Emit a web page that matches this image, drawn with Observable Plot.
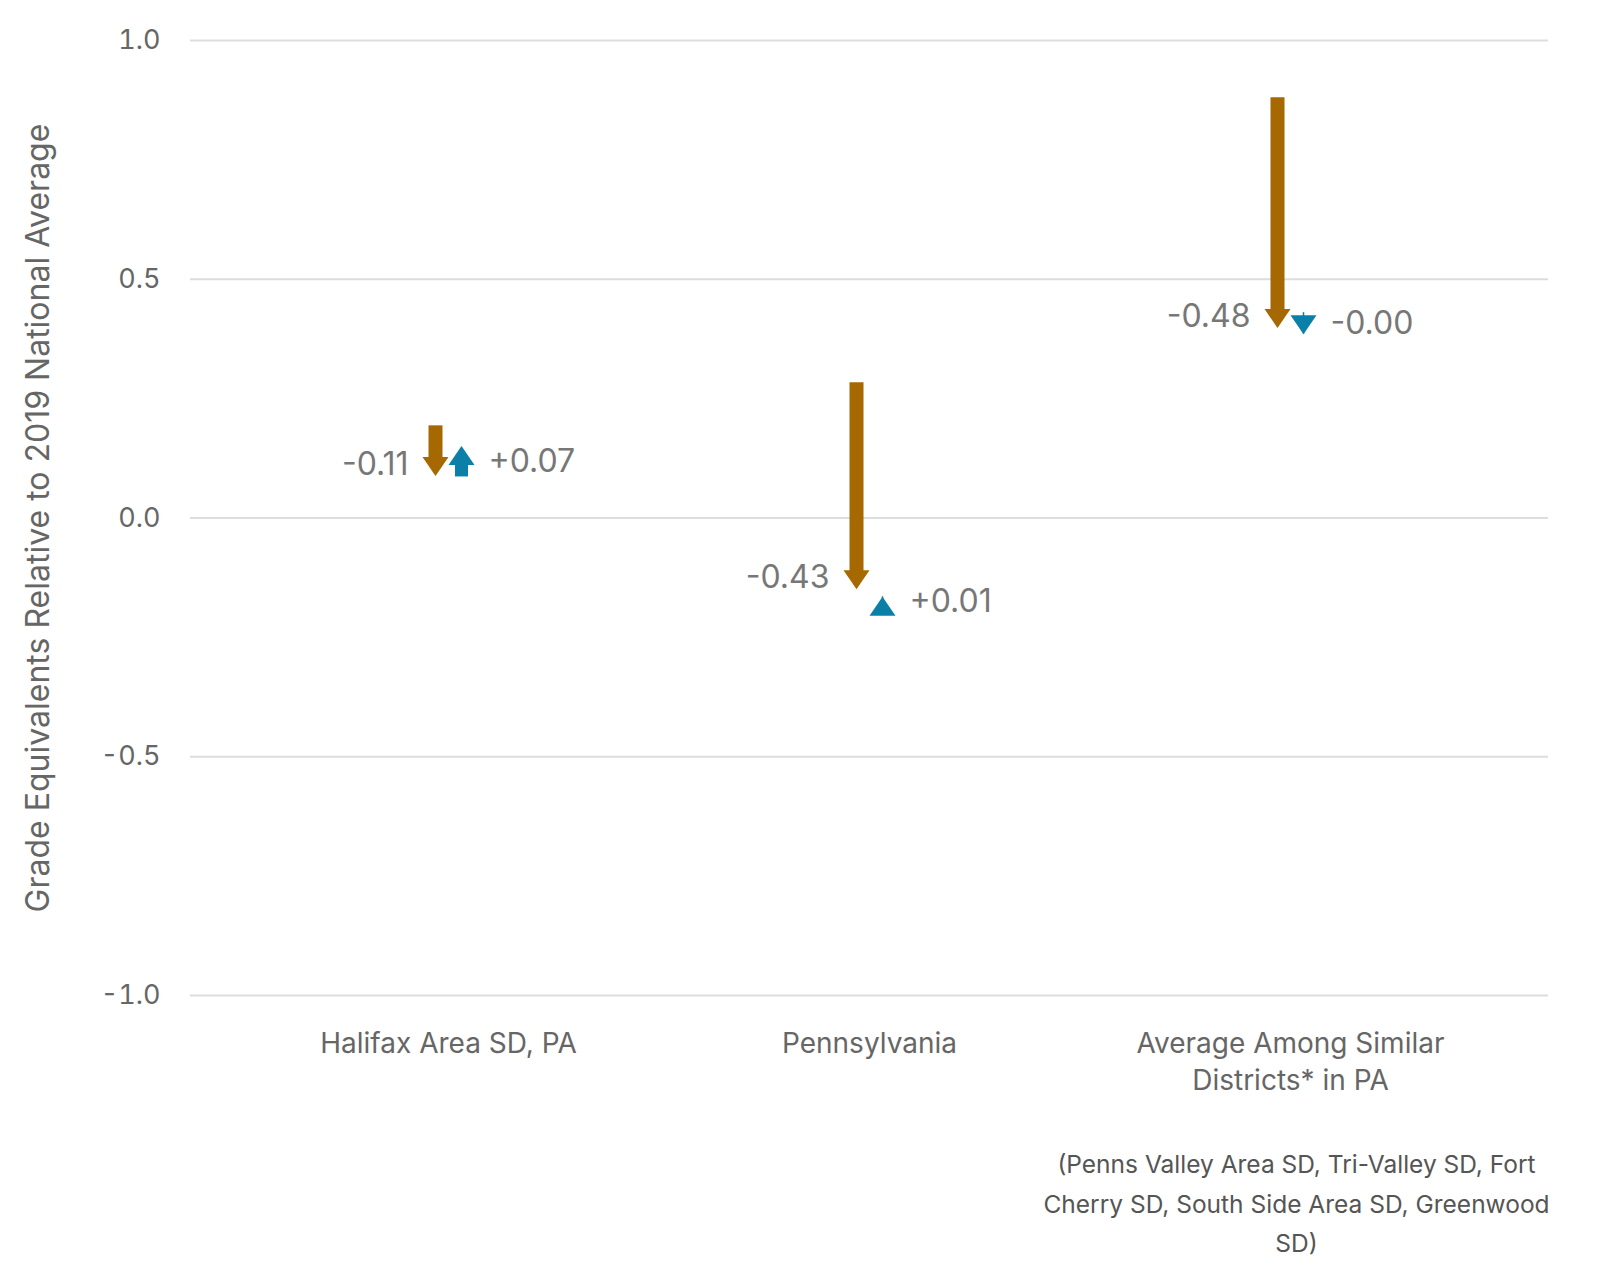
<!DOCTYPE html>
<html>
<head>
<meta charset="utf-8">
<script src="https://cdn.jsdelivr.net/npm/d3@7"></script>
<script src="https://cdn.jsdelivr.net/npm/@observablehq/plot@0.6"></script>
<style>
  html, body { margin: 0; padding: 0; background: white; font-family: Inter, sans-serif; overflow: hidden; }
  #chart svg { display: block; max-width: none !important; }
</style>
</head>
<body>
<div id="chart"></div>
<script>
// categories and values
const groups = ["Halifax Area SD, PA", "Pennsylvania", "Average Among Similar\nDistricts* in PA"]
const firstStart = [0.193, 0.283, 0.88]
const firstEnd = [0.088, -0.149, 0.398]
const firstLabel = ["-0.11", "-0.43", "-0.48"]
const secondStart = [0.086, -0.185, 0.43]
const secondEnd = [0.151, -0.165, 0.385]
const secondLabel = ["+0.07", "+0.01", "-0.00"]
const yTicks = [-1, -0.5, 0, 0.5, 1]
const note = "(Penns Valley Area SD, Tri-Valley SD, Fort\nCherry SD, South Side Area SD, Greenwood\nSD)"

const brown = "#A66800"
const blue = "#0A80A8"

const rows = groups.map((g, i) => ({
  g,
  s1: firstStart[i], e1: firstEnd[i], l1: firstLabel[i],
  s2: secondStart[i], e2: secondEnd[i], l2: secondLabel[i],
  rot1: firstEnd[i] < firstStart[i] ? 0 : 180,
  rot2: secondEnd[i] < secondStart[i] ? 0 : 180
}))

// arrow head, tip at the origin, pointing down
const head = {
  draw(ctx) {
    ctx.moveTo(0, 0)
    ctx.lineTo(-13, -19)
    ctx.lineTo(13, -19)
    ctx.closePath()
  }
}

const down = (s, e) => (d) => d[e] < d[s] && Math.abs(d[e] - d[s]) > 0.05
const up = (s, e) => (d) => d[e] > d[s] && Math.abs(d[e] - d[s]) > 0.05

const chart = Plot.plot({
  width: 1600,
  height: 1271,
  marginLeft: 190,
  marginRight: 52,
  marginTop: 40,
  marginBottom: 276,
  style: { fontFamily: "Inter, sans-serif", fontSize: "27px", color: "#666" },
  x: { type: "point", domain: groups, padding: 0.61, label: null },
  y: { domain: [-1, 1], ticks: yTicks, label: null },
  marks: [
    Plot.gridY(yTicks, { stroke: "#ddd", strokeOpacity: 1, strokeWidth: 2 }),
    Plot.axisY(yTicks, { tickSize: 0, tickPadding: 30, tickFormat: (d) => d3.format(".1f")(d).replace("−", "-"), fontSize: 27, label: null }),
    Plot.axisX({ tickSize: 0, tickPadding: 32, fontSize: 28, lineHeight: 1.3, label: null }),
    Plot.text(["Grade Equivalents Relative to 2019 National Average"], {
      frameAnchor: "left", textAnchor: "middle", dx: -152, rotate: -90, fontSize: 32, fill: "#666"
    }),
    Plot.ruleX(rows, { filter: down("s1", "e1"), x: "g", y1: "s1", y2: "e1", dx: -13, insetBottom: 17, stroke: brown, strokeWidth: 14 }),
    Plot.ruleX(rows, { filter: up("s1", "e1"), x: "g", y1: "e1", y2: "s1", dx: -13, insetTop: 17, stroke: brown, strokeWidth: 14 }),
    Plot.dot(rows, { x: "g", y: "e1", dx: -13, symbol: head, rotate: "rot1", fill: brown, stroke: "none" }),
    Plot.ruleX(rows, { filter: down("s2", "e2"), x: "g", y1: "s2", y2: "e2", dx: 13, insetBottom: 17, stroke: blue, strokeWidth: 13 }),
    Plot.ruleX(rows, { filter: up("s2", "e2"), x: "g", y1: "e2", y2: "s2", dx: 13, insetTop: 17, stroke: blue, strokeWidth: 13 }),
    Plot.ruleX(rows, { filter: (d) => Math.abs(d.e2 - d.s2) <= 0.05, x: "g", y1: "s2", y2: "e2", dx: 13, stroke: blue, strokeWidth: 1.5 }),
    Plot.dot(rows, { x: "g", y: "e2", dx: 13, symbol: head, rotate: "rot2", fill: blue, stroke: "none" }),
    Plot.text(rows, { x: "g", y: (d) => d.e1 + 0.024, text: "l1", dx: -40, textAnchor: "end", fontSize: 32, fill: "#777" }),
    Plot.text(rows, { x: "g", y: (d) => (d.s2 + d.e2) / 2, text: "l2", dx: 40, textAnchor: "start", fontSize: 32, fill: "#777" }),
    Plot.text([note], { x: () => groups[2], y: () => -1, dx: 6, dy: 150, lineAnchor: "top", lineHeight: 1.6, fontSize: 24.5, fill: "#555" })
  ]
})

document.getElementById("chart").append(chart)
</script>
</body>
</html>
